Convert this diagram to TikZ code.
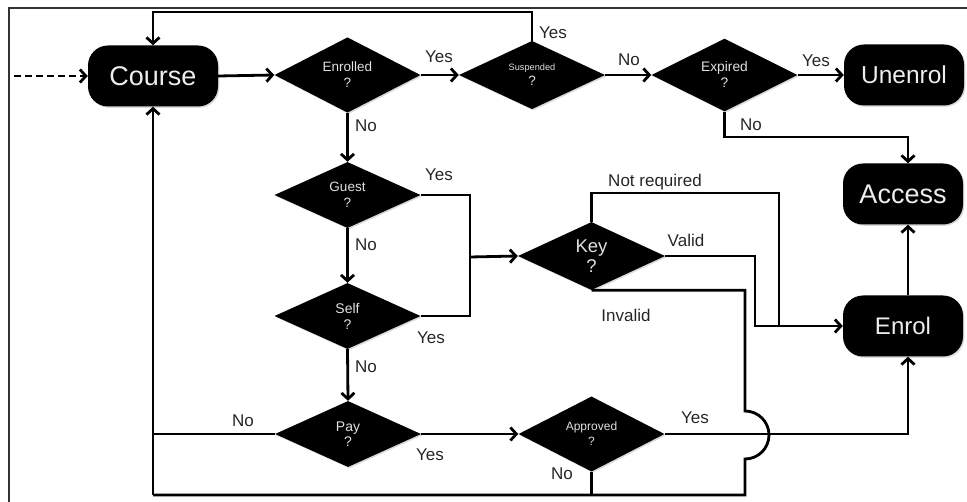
\documentclass[tikz,border=0pt]{standalone}
\usepackage{fontspec}
\setmainfont{Liberation Sans}
\usetikzlibrary{shapes.geometric,arrows.meta,shadows}

\begin{document}
\begin{tikzpicture}[x=1pt,y=1pt,
  flow/.style={line width=2.8pt, line join=miter},
  arr/.style={flow, -{Straight Barb[length=6pt,width=13pt]}},
  soft/.style={drop shadow={shadow xshift=1.3pt, shadow yshift=-1.3pt, opacity=0.3}},
  term/.style={rectangle, rounded corners=20pt, fill=black, text=white!93!black,
    minimum width=120pt, minimum height=61pt, inner sep=0pt, soft},
  dec/.style={diamond, fill=black, text=white!88!black, minimum width=146pt,
    minimum height=66pt, inner sep=0pt, align=center, soft},
  lbl/.style={font=\fontsize{17}{20}\selectfont, inner sep=0pt, text=black!85}
]
\useasboundingbox (0,0) rectangle (967,-502);

% frame edges
\draw[line width=1.4pt, black!80] (9,-502) -- (9,-8) -- (967,-8);

% terminals
\node[term, minimum width=130pt, font=\fontsize{27}{30}\selectfont] (course) at (153,-76) {Course};
\node[term, font=\fontsize{24.5}{28}\selectfont] (unenrol) at (904,-75) {Unenrol};
\node[term, font=\fontsize{27}{30}\selectfont] (access) at (903,-194) {Access};
\node[term, font=\fontsize{24}{28}\selectfont] (enrol) at (903,-326) {Enrol};

% decisions
\node[dec, font=\fontsize{13.5}{16}\selectfont] (enr) at (347.5,-75) {Enrolled\\?};
\node[dec, font=\fontsize{13.5}{15}\selectfont] (sus) at (532,-75) {{\fontsize{9.2}{11}\selectfont Suspended}\\?};
\node[dec, font=\fontsize{13.8}{16}\selectfont] (exp) at (724.5,-75) {Expired\\?};
\node[dec, font=\fontsize{13.5}{16}\selectfont] (guest) at (347.5,-195) {Guest\\?};
\node[dec, font=\fontsize{14}{16}\selectfont] (self) at (347.5,-316) {Self\\?};
\node[dec, minimum width=147pt, minimum height=68pt, font=\fontsize{18.5}{20}\selectfont] (key) at (591.5,-256) {Key\\?};
\node[dec, font=\fontsize{14}{15}\selectfont] (pay) at (348,-434) {Pay\\?};
\node[dec, font=\fontsize{12}{15}\selectfont] (appr) at (591.5,-434) {Approved\\?};

% routing points
\coordinate (entry) at (14,-76);
\coordinate (topline) at (0,-12);
\coordinate (exprow) at (0,-137);
\coordinate (merge) at (470,-257);
\coordinate (nrrow) at (0,-193);
\coordinate (nrx) at (779,-326);
\coordinate (valx) at (755,0);
\coordinate (invx) at (745,0);
\coordinate (jumptop) at (745,-411);
\coordinate (bottomrow) at (0,-495);
\coordinate (loopx) at (153,0);

% main connectors
\draw[arr, dashed, dash pattern=on 7pt off 4pt] (entry) -- (course.west);
\draw[arr] (course.east) -- (enr.west);
\draw[arr] (enr.east) -- (sus.west);
\draw[arr] (sus.east) -- (exp.west);
\draw[arr] (exp.east) -- (exp.east -| unenrol.west);
\draw[arr] (sus.north) -- (sus.north |- topline) -| (course.north);
\draw[arr] (exp.south) -- (exp.south |- exprow) -| ([xshift=5pt]access.north);
\draw[arr] (enr.south) -- (guest.north);
\draw[arr] (guest.south) -- (self.north);
\draw[arr] (self.south) -- (pay.north);
\draw[flow] (guest.east) -| (merge);
\draw[flow] (self.east) -| (merge);
\draw[arr] (merge) -- (key.west);
\draw[flow] (key.north) -- (key.north |- nrrow) -| (nrx);
\draw[arr] (key.east) -| (valx |- nrx) -- (nrx -| enrol.west);
\draw[arr] ([xshift=5pt]enrol.north) -- ([xshift=5pt]access.south);
\draw[arr] (pay.east) -- (appr.west);
\draw[arr] (appr.east) -| ([xshift=5pt]enrol.south);
\draw[flow] (key.south) -| (jumptop)
  arc[start angle=90, end angle=-90, radius=24pt]
  -- (invx |- bottomrow) -- (loopx |- bottomrow);
\draw[flow] (appr.south) -- (appr.south |- bottomrow);
\draw[flow] (pay.west) -- (pay.west -| loopx);
\draw[arr] (loopx |- bottomrow) -- (course.south);

% connector labels
\node[lbl] (l1) at (553,-33) {Yes};
\node[lbl] (l2) at (439,-57) {Yes};
\node[lbl] (l3) at (629,-60) {No};
\node[lbl] (l4) at (816,-61) {Yes};
\node[lbl] (l5) at (751,-125) {No};
\node[lbl] (l6) at (366,-126) {No};
\node[lbl] (l7) at (439,-175) {Yes};
\node[lbl] (l8) at (366,-245) {No};
\node[lbl] (l9) at (431,-338) {Yes};
\node[lbl] (l10) at (366,-367) {No};
\node[lbl] (l11) at (243,-421) {No};
\node[lbl] (l12) at (430,-455) {Yes};
\node[lbl] (l13) at (695,-418) {Yes};
\node[lbl] (l14) at (562,-474) {No};
\node[lbl] (l15) at (655,-182) {Not required};
\node[lbl] (l16) at (686,-240) {Valid};
\node[lbl] (l17) at (626,-315) {Invalid};
\end{tikzpicture}
\end{document}
